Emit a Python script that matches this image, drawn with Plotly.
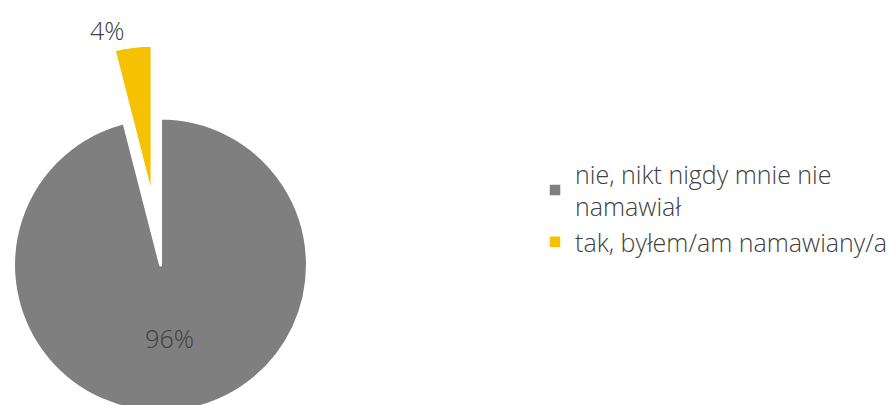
import math
import plotly.graph_objects as go

labels = ["nie, nikt nigdy mnie nie<br>namawiał", "tak, byłem/am namawiany/a"]
values = [96, 4]
colors = ["#7F7F7F", "#F5C100"]
pct_text = [f"{v}%" for v in values]

W, H = 894, 420
R = 147
cx, cy = 156.4, 265
pull = 0.5
# yellow slice bisector (clockwise from 12 o'clock)
ang = math.radians(360 - 360 * values[1] / sum(values) / 2)
dx, dy = R * pull * math.sin(ang), -R * pull * math.cos(ang)
bx, by = cx + dx, cy + dy

def dom(x0, y0):
    x0 = max(x0, R)
    return dict(x=[(x0 - R) / W, (x0 + R) / W], y=[1 - (y0 + R) / H, 1 - (y0 - R) / H])

font = dict(family="Open Sans", size=25, color="#404040", weight=300)

fig = go.Figure()
fig.add_trace(go.Pie(
    labels=labels, values=values, sort=False, direction="clockwise",
    marker=dict(colors=colors, line=dict(color="white", width=1.5)),
    text=[pct_text[0], ""], textinfo="text", textposition="inside",
    insidetextfont=font, domain=dom(cx, cy), hoverinfo="skip",
    showlegend=True,
))
fig.add_trace(go.Pie(
    labels=labels, values=values, sort=False, direction="clockwise",
    marker=dict(colors=["rgba(0,0,0,0)", "white"], line=dict(color=["rgba(0,0,0,0)", "white"], width=3)),
    textinfo="none", domain=dom(cx, cy), hoverinfo="skip", showlegend=False,
))
fig.add_trace(go.Pie(
    labels=labels, values=values, sort=False, direction="clockwise",
    marker=dict(colors=["rgba(0,0,0,0)", colors[1]], line=dict(color=["rgba(0,0,0,0)", "white"], width=1.5)),
    text=["", pct_text[1]], textinfo="text", textposition="outside",
    outsidetextfont=font, domain=dom(bx, by), hoverinfo="skip", showlegend=False,
))

fig.update_layout(
    width=W, height=H,
    margin=dict(l=0, r=0, t=0, b=0),
    paper_bgcolor="white", plot_bgcolor="white",
    font=font,
    legend=dict(x=533 / W, xanchor="left", y=1 - 151 / H, yanchor="top",
                font=dict(family="Open Sans", size=25, color="#404040", weight=300),
                itemclick=False),
)

fig.write_html("out.html", config={"displayModeBar": False},
               post_script="document.body.style.margin='0';document.body.style.overflow='hidden';")
